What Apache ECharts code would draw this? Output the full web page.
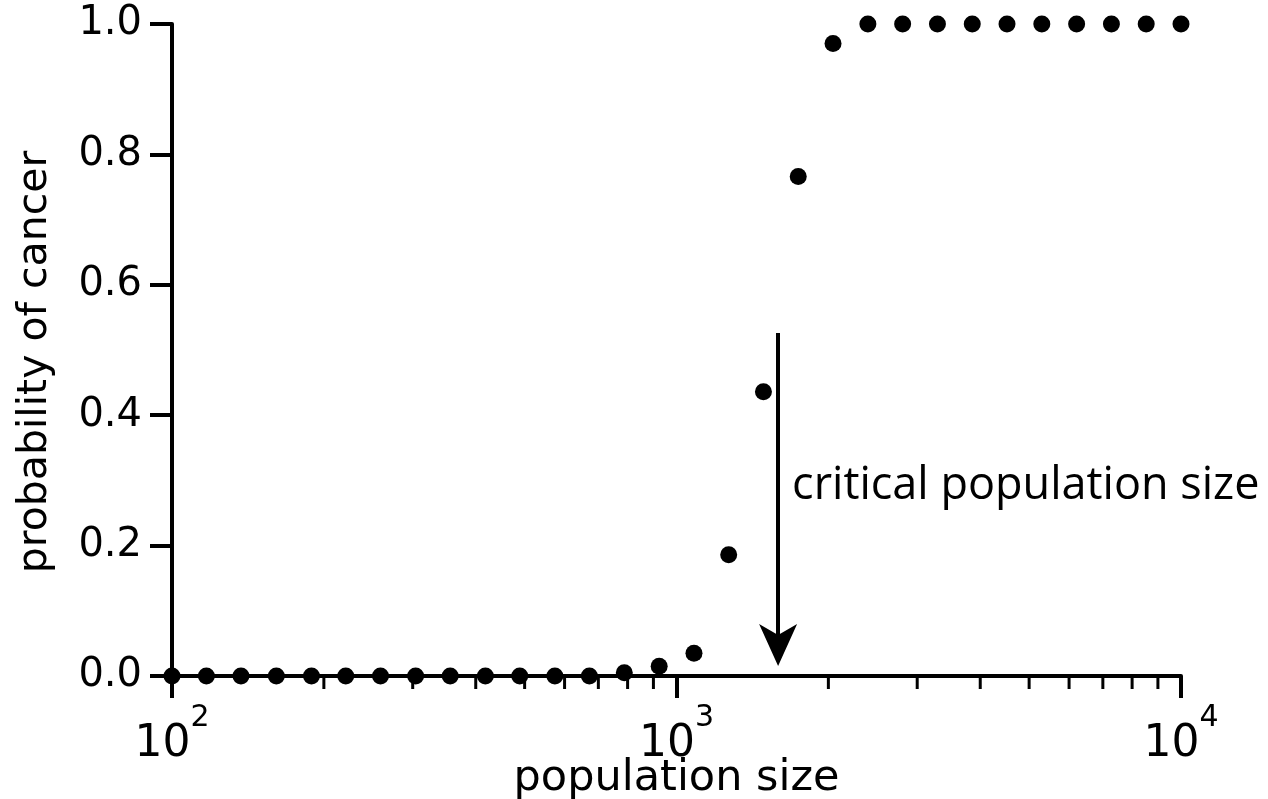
<!DOCTYPE html>
<html>
<head>
<meta charset="utf-8">
<title>probability of cancer vs population size</title>
<script src="https://cdn.jsdelivr.net/npm/echarts@6/dist/echarts.min.js"></script>
<style>
  html, body { margin: 0; padding: 0; background: #fff; }
  #chart { width: 1268px; height: 799px; }
</style>
</head>
<body>
<div id="chart"></div>
<script>
// population sizes (log-spaced samples from 10^2 to 10^4)
const populationSizes = [100, 117, 137, 161, 189, 221, 259, 304, 356, 418,
  489, 574, 672, 788, 924, 1083, 1269, 1487, 1743, 2043,
  2395, 2807, 3290, 3857, 4520, 5298, 6210, 7279, 8532, 10000];
// estimated probability of cancer at each size
const cancerProbability = [0, 0, 0, 0, 0, 0, 0, 0, 0, 0,
  0, 0, 0, 0.005, 0.015, 0.035, 0.186, 0.436, 0.766, 0.970,
  1, 1, 1, 1, 1, 1, 1, 1, 1, 1];
// y-axis ticks
const yTicks = [0, 0.2, 0.4, 0.6, 0.8, 1.0];
// minor ticks on the log x axis
const minorTicks = [200, 300, 400, 500, 600, 700, 800, 900,
  2000, 3000, 4000, 5000, 6000, 7000, 8000, 9000];
// critical population size annotation
const criticalSize = 1590;
const arrowFrom = 0.526;
const arrowTo = 0.0475;
const criticalLabelY = 0.291;
const criticalText = 'critical population size';

const points = populationSizes.map((x, i) => [x, cancerProbability[i]]);

const chart = echarts.init(document.getElementById('chart'), null, { renderer: 'canvas' });

const black = '#000';
const sans = 'DejaVu Sans';

chart.setOption({
  animation: false,
  backgroundColor: '#fff',
  grid: { left: 172, right: 87, top: 24, bottom: 123, containLabel: false, outerBoundsMode: 'none' },
  xAxis: {
    type: 'log',
    logBase: 10,
    min: 100,
    max: 10000,
    name: 'population size',
    nameLocation: 'middle',
    nameGap: 81,
    nameMoveOverlap: false,
    nameTextStyle: { fontFamily: sans, fontSize: 43, color: black },
    axisLine: { show: true, onZero: false, lineStyle: { color: black, width: 4 } },
    axisTick: { show: true, length: 22, lineStyle: { color: black, width: 4 } },
    splitLine: { show: false },
    axisLabel: {
      margin: 27,
      color: black,
      formatter: v => '{b|10}{s|' + Math.round(Math.log10(v)) + '}',
      rich: {
        b: { fontFamily: sans, fontSize: 44, lineHeight: 64, verticalAlign: 'bottom', color: black },
        s: { fontFamily: sans, fontSize: 30, lineHeight: 30, verticalAlign: 'top', color: black }
      }
    }
  },
  yAxis: {
    type: 'value',
    min: 0,
    max: 1,
    interval: 0.2,
    name: 'probability of cancer',
    nameLocation: 'middle',
    nameGap: 116,
    nameMoveOverlap: false,
    nameTextStyle: { fontFamily: sans, fontSize: 41, color: black, padding: [0, 24, 0, 0] },
    axisLine: { show: true, lineStyle: { color: black, width: 4 } },
    axisTick: { show: true, length: 22, lineStyle: { color: black, width: 4 } },
    splitLine: { show: false },
    axisLabel: {
      margin: 30,
      fontFamily: sans,
      fontSize: 40,
      color: black,
      customValues: yTicks,
      formatter: v => v.toFixed(1)
    }
  },
  series: [
    {
      type: 'custom',
      silent: true,
      clip: false,
      data: minorTicks.map(v => [v, 0]),
      encode: { x: 0, y: 1 },
      renderItem: (params, api) => {
        const p = api.coord([api.value(0), api.value(1)]);
        return {
          type: 'line',
          shape: { x1: p[0], y1: p[1], x2: p[0], y2: p[1] + 13 },
          style: { stroke: black, lineWidth: 3 }
        };
      },
      z: 1
    },
    {
      type: 'scatter',
      data: points,
      symbol: 'circle',
      symbolSize: 17,
      itemStyle: { color: black, opacity: 1 },
      clip: false,
      z: 3,
      markLine: {
        silent: true,
        symbol: ['none', 'path://M19,0 L38,42 L19,31 L0,42 Z'],
        symbolSize: [38, 42],
        lineStyle: { color: black, width: 4, type: 'solid', opacity: 1 },
        itemStyle: { color: black },
        label: { show: false },
        data: [[{ coord: [criticalSize, arrowFrom] }, { coord: [criticalSize, arrowTo] }]]
      },
      markPoint: {
        silent: true,
        symbol: 'circle',
        symbolSize: 0,
        itemStyle: { color: 'rgba(0,0,0,0)' },
        label: {
          show: true,
          position: 'right',
          distance: 14,
          formatter: criticalText,
          fontFamily: 'Open Sans',
          fontSize: 45,
          color: black
        },
        data: [{ coord: [criticalSize, criticalLabelY] }]
      }
    }
  ]
});
</script>
</body>
</html>
